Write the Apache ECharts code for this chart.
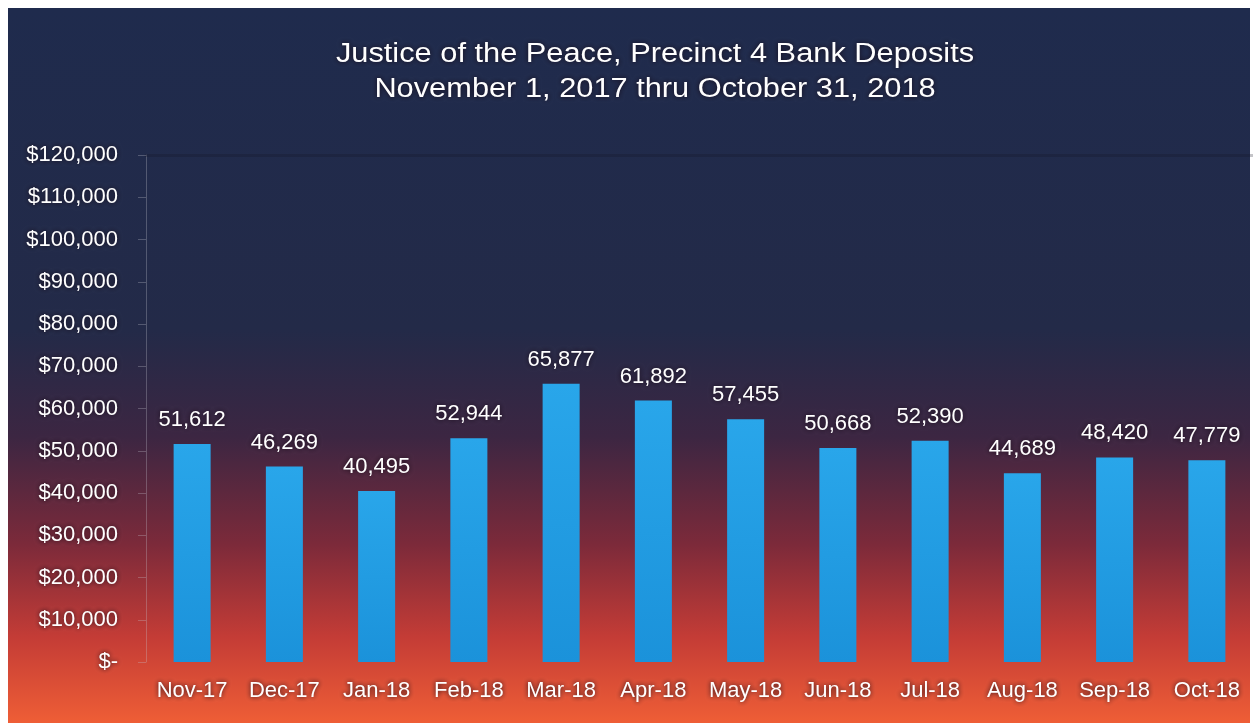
<!DOCTYPE html>
<html><head><meta charset="utf-8">
<script src="https://cdn.jsdelivr.net/npm/echarts@6/dist/echarts.min.js"></script>
<style>html,body{margin:0;padding:0;background:#fff;}#c{width:1253px;height:723px;}</style>
</head><body><div id="c"></div>
<script>
const categories = ['Nov-17','Dec-17','Jan-18','Feb-18','Mar-18','Apr-18','May-18','Jun-18','Jul-18','Aug-18','Sep-18','Oct-18'];
const deposits = [51612, 46269, 40495, 52944, 65877, 61892, 57455, 50668, 52390, 44689, 48420, 47779];
const titleLines = ['Justice of the Peace, Precinct 4 Bank Deposits', 'November 1, 2017 thru October 31, 2018'];

const FONT = 'Liberation Sans, Arial, sans-serif';
const chart = echarts.init(document.getElementById('c'));
const shadow = {textShadowColor: 'rgba(20,8,20,0.95)', textShadowBlur: 5};
chart.setOption({
  backgroundColor: '#ffffff',
  animation: false,
  graphic: [{
    type: 'rect', z: -10, silent: true,
    shape: {x: 8, y: 8, width: 1242, height: 715},
    style: {fill: new echarts.graphic.LinearGradient(0, 0, 0, 1, [
      {offset: 0, color: '#1f2b4d'},
      {offset: 0.45, color: '#232a48'},
      {offset: 0.6, color: '#3c2642'},
      {offset: 0.75, color: '#7c2a3a'},
      {offset: 0.88, color: '#c43c36'},
      {offset: 1, color: '#ef5e36'}
    ])}
  }, {
    type: 'text', silent: true, z: 10,
    x: 655, y: 72, scaleX: 1.14,
    style: Object.assign({
      text: titleLines.join('\n'), fill: '#ffffff', font: '27px ' + FONT,
      lineHeight: 35, align: 'center', verticalAlign: 'middle'
    }, shadow)
  }],
  grid: {left: 146, right: 0, top: 155, bottom: 61, containLabel: false},
  xAxis: [{
    type: 'category', data: categories,
    axisLine: {show: false}, axisTick: {show: false},
    axisLabel: Object.assign({color: '#ffffff', fontSize: 22, fontFamily: FONT, margin: 18, interval: 0}, shadow)
  }, {
    type: 'category', data: categories, position: 'top',
    axisLine: {show: true, lineStyle: {color: 'rgba(20,20,35,0.25)', width: 3}},
    axisTick: {show: false}, axisLabel: {show: false}
  }],
  yAxis: {
    type: 'value', min: 0, max: 120000, interval: 10000,
    axisLine: {show: true, lineStyle: {color: 'rgba(200,200,210,0.3)', width: 1}},
    axisTick: {show: true, length: 8, lineStyle: {color: 'rgba(200,200,210,0.3)'}},
    splitLine: {show: false},
    axisLabel: Object.assign({
      color: '#ffffff', fontSize: 22, fontFamily: FONT, margin: 28,
      formatter: v => v === 0 ? '$-' : '$' + v.toLocaleString('en-US')
    }, shadow)
  },
  series: [{
    type: 'bar', data: deposits, barWidth: 37, xAxisIndex: 0,
    itemStyle: {color: new echarts.graphic.LinearGradient(0, 0, 0, 1, [
      {offset: 0, color: '#29a6ea'}, {offset: 1, color: '#1b92da'}
    ])},
    label: Object.assign({
      show: true, position: 'top', distance: 13, color: '#ffffff', fontSize: 22,
      fontFamily: FONT,
      formatter: p => p.value.toLocaleString('en-US')
    }, shadow)
  }]
});
</script></body></html>
